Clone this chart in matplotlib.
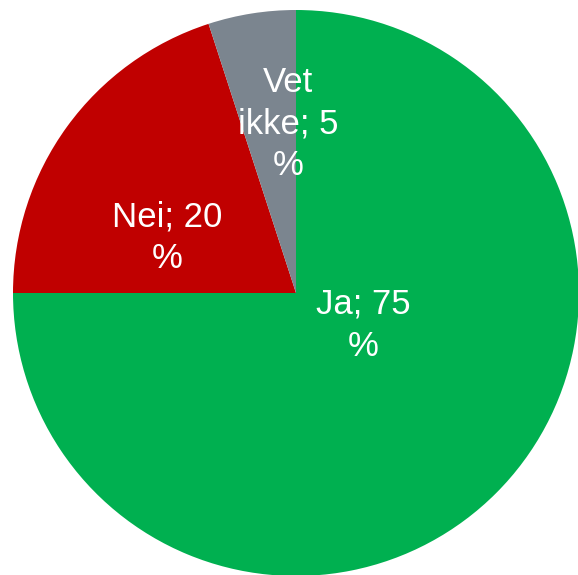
import matplotlib
matplotlib.use("Agg")
import matplotlib.pyplot as plt

categories = ["Ja", "Nei", "Vet ikke"]
values = [75, 20, 5]
label_texts = ["Ja; 75\n%", "Nei; 20\n%", "Vet\nikke; 5\n%"]
colors = ["#00B050", "#C00000", "#7B858F"]
label_pos = [(0.237, -0.114), (-0.456, 0.195), (-0.028, 0.597)]

W, H = 578, 575
fig = plt.figure(figsize=(W / 100, H / 100), dpi=100)
cx, cy, r = 296, 293, 283
ax = fig.add_axes([(cx - r) / W, (H - cy - r) / H, 2 * r / W, 2 * r / H])
ax.pie(values, colors=colors, startangle=90, counterclock=False, radius=1,
       wedgeprops=dict(linewidth=0))
ax.set_xlim(-1, 1)
ax.set_ylim(-1, 1)
ax.set_aspect("auto")
ax.axis("off")
for txt, (x, y) in zip(label_texts, label_pos):
    ax.text(x, y, txt, ha="center", va="center", color="white", fontsize=25,
            family=["Liberation Sans", "DejaVu Sans"], linespacing=1.33)

fig.savefig("out.png", dpi=100)
